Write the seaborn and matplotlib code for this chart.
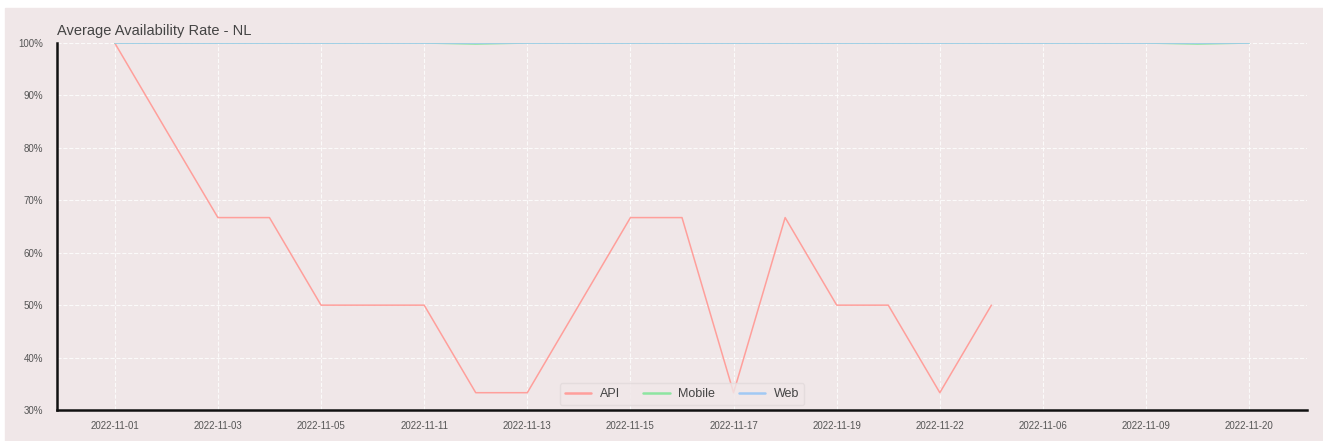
import pandas as pd
import matplotlib.pyplot as plt
import seaborn as sns
from matplotlib.patches import Rectangle

# categories in order of appearance (API dates first, then extra mobile/web dates)
dates = ['2022-11-01', '2022-11-02', '2022-11-03', '2022-11-04', '2022-11-05',
         '2022-11-08', '2022-11-11', '2022-11-12', '2022-11-13', '2022-11-14',
         '2022-11-15', '2022-11-16', '2022-11-17', '2022-11-18', '2022-11-19',
         '2022-11-21', '2022-11-22', '2022-11-23', '2022-11-06', '2022-11-07',
         '2022-11-09', '2022-11-10', '2022-11-20']

api_rate = [1.0, 0.833, 0.667, 0.667, 0.5, 0.5, 0.5, 0.333, 0.333, 0.5,
            0.667, 0.667, 0.333, 0.667, 0.5, 0.5, 0.333, 0.5]
mobile_rate = [1.0, 1.0, 1.0, 1.0, 1.0, 1.0, 1.0, 0.998, 1.0, 1.0,
               1.0, 1.0, 1.0, 1.0, 1.0, 1.0, 1.0, 1.0, 1.0, 1.0,
               1.0, 0.998, 1.0]
web_rate = [1.0] * 23

platforms = ['API', 'Mobile', 'Web']
colors = ['#ff9f9b', '#8de5a1', '#a1c9f4']
bg = '#f0e7e8'

sns.set_theme(style='darkgrid')
plt.rcParams['font.family'] = ['Liberation Sans', 'DejaVu Sans']


def build_frame():
    """
    Stack the three platform series into one long table.
    """
    rows = []
    for name, values in zip(platforms, [api_rate, mobile_rate, web_rate]):
        for date, value in zip(dates, values):
            rows.append({'Date': date, 'Availability': value, 'Platform': name})
    return pd.DataFrame(rows)


def main():
    df = build_frame()

    fig = plt.figure(figsize=(13.23, 4.41), dpi=100, facecolor='white')
    fig.patches.append(Rectangle((5 / 1323, 0), 1, 1 - 8 / 441,
                                 transform=fig.transFigure, color=bg,
                                 zorder=-10))
    ax = fig.add_axes([57 / 1323, 1 - 410 / 441, 1250 / 1323, 367 / 441])
    ax.set_facecolor(bg)

    sns.lineplot(data=df, x='Date', y='Availability', hue='Platform',
                 palette=dict(zip(platforms, colors)), linewidth=1.1, ax=ax)

    ax.set_ylim(0.3, 1.0)
    ax.set_xlim(-1.12, len(dates) - 1 + 1.12)
    ax.set_yticks([0.3, 0.4, 0.5, 0.6, 0.7, 0.8, 0.9, 1.0])
    ax.set_yticklabels(['30%', '40%', '50%', '60%', '70%', '80%', '90%', '100%'])
    ax.set_xticks(range(0, len(dates), 2))
    ax.set_xticklabels(dates[::2])
    ax.tick_params(axis='both', labelsize=7, colors='#555555', length=0)
    ax.tick_params(axis='y', pad=10)
    ax.tick_params(axis='x', pad=8)

    ax.grid(True, color='white', linestyle='--', linewidth=0.8, alpha=0.8)
    for side in ['top', 'right']:
        ax.spines[side].set_visible(False)
    for side in ['left', 'bottom']:
        ax.spines[side].set_visible(True)
        ax.spines[side].set_color('#111111')
        ax.spines[side].set_linewidth(1.8)

    ax.set_xlabel('')
    ax.set_ylabel('')
    ax.set_title('Average Availability Rate - NL', loc='left', fontsize=10.5,
                 color='#444444', pad=6)

    leg = ax.legend(loc='lower center', ncol=3, fontsize=9, frameon=True,
                    facecolor=bg, edgecolor='#e2dadb', columnspacing=1.9,
                    handlelength=2.1, handletextpad=0.7, borderaxespad=0.4)
    for text in leg.get_texts():
        text.set_color('#444444')
    for line in leg.get_lines():
        line.set_linewidth(1.8)

    fig.savefig('out.png', dpi=100, facecolor=fig.get_facecolor())


if __name__ == "__main__":
    main()
